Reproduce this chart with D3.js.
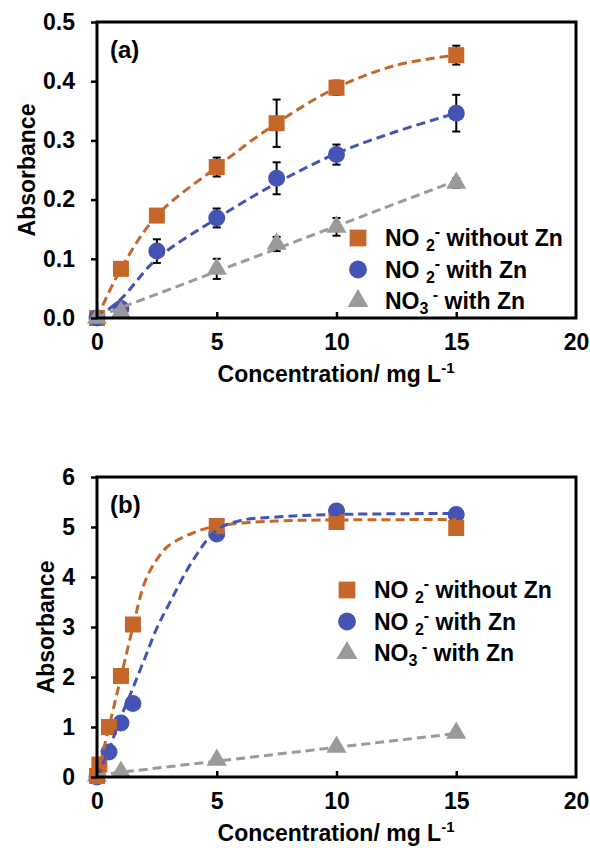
<!DOCTYPE html>
<html>
<head>
<meta charset="utf-8">
<script src="https://cdn.jsdelivr.net/npm/d3@7"></script>
<style>
  body { margin: 0; background: #fff; }
  text { font-family: "Liberation Sans", Arial, sans-serif; font-weight: bold; fill: #000; }
</style>
</head>
<body>
<div id="chart"></div>
<script>
// panel (a) measured points
var concA = [0, 1, 2.5, 5, 7.5, 10, 15];
var no2NoZnA = [0, 0.083, 0.173, 0.255, 0.329, 0.389, 0.444];
var no2NoZnErrA = [0, 0, 0, 0.016, 0.04, 0.012, 0.016];
var no2ZnA = [0, 0.016, 0.113, 0.169, 0.236, 0.276, 0.346];
var no2ZnErrA = [0, 0, 0.02, 0.016, 0.027, 0.017, 0.031];
var concA3 = [0, 1, 5, 7.5, 10, 15];
var no3ZnA = [0, 0.01, 0.083, 0.125, 0.154, 0.228];
var no3ZnErrA = [0, 0, 0.017, 0.012, 0.015, 0.008];

// panel (a) fitted dashed lines
var fitXA = [0, 1, 2.5, 5, 7.5, 10, 12.5, 15];
var fitNo2NoZnA = [0, 0.083, 0.173, 0.255, 0.329, 0.389, 0.427, 0.444];
var fitNo2ZnA = [0, 0.032, 0.1, 0.168, 0.228, 0.278, 0.315, 0.346];
var fitXA3 = [0, 15];
var fitNo3ZnA = [0.002, 0.232];

// panel (b) measured points
var concB1 = [0, 0.1, 0.5, 1, 1.5, 5, 10, 15];
var no2NoZnB = [0.02, 0.25, 1.0, 2.02, 3.05, 5.02, 5.1, 4.98];
var concB2 = [0, 0.5, 1, 1.5, 5, 10, 15];
var no2ZnB = [0, 0.5, 1.08, 1.47, 4.86, 5.32, 5.25];
var concB3 = [0, 1, 5, 10, 15];
var no3ZnB = [0.02, 0.1, 0.34, 0.6, 0.88];

// panel (b) fitted dashed lines
var fitXB1 = [0, 0.5, 1, 1.5, 2, 2.5, 3, 4, 5, 7.5, 10, 15];
var fitNo2NoZnB = [0, 1.0, 2.0, 3.0, 3.9, 4.35, 4.63, 4.88, 5.02, 5.12, 5.14, 5.15];
var fitXB2 = [0, 0.5, 1, 1.5, 2, 2.5, 3, 4, 5, 6, 7.5, 10, 15];
var fitNo2ZnB = [0, 0.55, 1.2, 1.78, 2.38, 2.98, 3.45, 4.33, 4.94, 5.13, 5.2, 5.25, 5.27];
var fitXB3 = [0, 15];
var fitNo3ZnB = [0.04, 0.87];

var xTicks = [0, 5, 10, 15, 20];
var yTicksA = [0, 0.1, 0.2, 0.3, 0.4, 0.5];
var yTicksB = [0, 1, 2, 3, 4, 5, 6];

var orange = "#C6672A";
var blue = "#4354B4";
var grey = "#9A9A9A";

var width = 590;
var height = 848;

var svg = d3.select("#chart").
append("svg").
attr("width", width).
attr("height", height);

svg.append("rect").
attr("width", width).
attr("height", height).
attr("fill", "#fff");

function zip(xs, ys, es) {
  return xs.map(function (x, i) {
    return { x: x, y: ys[i], e: es ? es[i] : 0 };
  });
}

function drawPanel(p) {
  var x = d3.scaleLinear().domain([0, 20]).range([97, 576]);
  var y = d3.scaleLinear().domain(p.yDomain).range([p.bottom, p.top]);
  var g = svg.append("g");

  // error bars (behind the markers)
  p.series.forEach(function (s) {
    if (!s.err) return;
    var pts = zip(s.x, s.y, s.err).filter(function (d) { return d.e > 0; });
    var eb = g.selectAll(null).data(pts).enter().append("g").
    attr("stroke", "#000").
    attr("stroke-width", 2);
    eb.append("line").
    attr("x1", function (d) { return x(d.x); }).
    attr("x2", function (d) { return x(d.x); }).
    attr("y1", function (d) { return y(d.y - d.e); }).
    attr("y2", function (d) { return y(d.y + d.e); });
    [-1, 1].forEach(function (sg) {
      eb.append("line").
      attr("x1", function (d) { return x(d.x) - 4; }).
      attr("x2", function (d) { return x(d.x) + 4; }).
      attr("y1", function (d) { return y(d.y + sg * d.e); }).
      attr("y2", function (d) { return y(d.y + sg * d.e); });
    });
  });

  // markers
  p.series.forEach(function (s) {
    g.selectAll(null).
    data(zip(s.x, s.y)).
    enter().
    append("path").
    attr("d", d3.symbol().type(s.symbol).size(s.size)).
    attr("transform", function (d) {
      return "translate(" + x(d.x) + "," + y(d.y) + ")";
    }).
    attr("fill", s.color);
  });

  // dashed fit lines
  var line = d3.line().
  x(function (d) { return x(d.x); }).
  y(function (d) { return y(d.y); }).
  curve(d3.curveCatmullRom.alpha(0.5));
  p.fits.forEach(function (f) {
    g.append("path").
    datum(zip(f.x, f.y)).
    attr("d", line).
    attr("fill", "none").
    attr("stroke", f.color).
    attr("stroke-width", 3).
    attr("stroke-dasharray", "9,5");
  });

  // axes
  var yAxis = d3.axisLeft(y).tickValues(p.yTicks).tickFormat(p.fmt).tickSizeInner(6).tickSizeOuter(0).tickPadding(16);
  var yg = g.append("g").attr("transform", "translate(97,0)").call(yAxis);
  var xAxis = d3.axisBottom(x).tickValues(xTicks).tickFormat(d3.format("d")).tickSizeInner(-6).tickSizeOuter(0).tickPadding(16);
  var xg = g.append("g").attr("transform", "translate(0," + p.bottom + ")").call(xAxis);
  [yg, xg].forEach(function (ax) {
    ax.select(".domain").remove();
    ax.selectAll(".tick line").attr("stroke", "#000").attr("stroke-width", 2.5);
    ax.selectAll(".tick text").
    attr("font-size", 23).
    attr("font-family", "\"Liberation Sans\", Arial, sans-serif").
    attr("font-weight", "bold");
  });
  xg.selectAll(".tick").filter(function (d) { return d === 0 || d === 20; }).select("line").remove();

  g.append("rect").
  attr("x", 97).
  attr("y", p.top).
  attr("width", 576 - 97).
  attr("height", p.bottom - p.top).
  attr("fill", "none").
  attr("stroke", "#000").
  attr("stroke-width", 3);

  g.append("text").
  text(p.label).
  attr("x", 110).
  attr("y", p.top + 36).
  attr("font-size", 24);

  var ty = g.append("text").
  attr("text-anchor", "middle").
  attr("font-size", 23).
  attr("x", 336).
  attr("y", p.bottom + 64);
  ty.append("tspan").text("Concentration/ mg L");
  ty.append("tspan").text("-1").attr("font-size", 15).attr("dy", -9);

  g.append("text").
  text("Absorbance").
  attr("text-anchor", "middle").
  attr("font-size", 23).
  attr("transform", "translate(" + p.yTitleX + "," + (p.top + p.bottom) / 2 + ") rotate(-90)");

  // legend
  p.series.forEach(function (s) {
    var ly = p.legY + s.row * 31.5;
    g.append("path").
    attr("d", d3.symbol().type(s.symbol).size(s.legSize)).
    attr("transform", "translate(" + p.legX + "," + ly + ")").
    attr("fill", s.color);
    var t = g.append("text").
    attr("x", p.legX + 27).
    attr("y", ly + 8).
    attr("font-size", 23);
    t.append("tspan").text(s.sub === "2" ? "NO " : "NO");
    t.append("tspan").text(s.sub).attr("font-size", 16).attr("dy", 5);
    t.append("tspan").text(s.sub === "2" ? "-" : " -").attr("font-size", 16).attr("dy", -14);
    t.append("tspan").text(" " + s.name).attr("dy", 9);
  });
}

var seriesA = [
  { x: concA, y: no2NoZnA, err: no2NoZnErrA, color: orange, symbol: d3.symbolSquare, size: 256, legSize: 280, row: 0, sub: "2", name: "without Zn" },
  { x: concA, y: no2ZnA, err: no2ZnErrA, color: blue, symbol: d3.symbolCircle, size: 227, legSize: 250, row: 1, sub: "2", name: "with Zn" },
  { x: concA3, y: no3ZnA, err: no3ZnErrA, color: grey, symbol: d3.symbolTriangle, size: 175, legSize: 190, row: 2, sub: "3", name: "with Zn" }
];

drawPanel({
  top: 22, bottom: 318, yDomain: [0, 0.5], yTicks: yTicksA, fmt: d3.format(".1f"),
  label: "(a)", yTitleX: 35, legX: 358, legY: 238,
  series: seriesA,
  fits: [
    { x: fitXA, y: fitNo2NoZnA, color: orange },
    { x: fitXA, y: fitNo2ZnA, color: blue },
    { x: fitXA3, y: fitNo3ZnA, color: grey }
  ]
});

var seriesB = [
  { x: concB3, y: no3ZnB, color: grey, symbol: d3.symbolTriangle, size: 175, legSize: 190, row: 2, sub: "3", name: "with Zn" },
  { x: concB2, y: no2ZnB, color: blue, symbol: d3.symbolCircle, size: 227, legSize: 250, row: 1, sub: "2", name: "with Zn" },
  { x: concB1, y: no2NoZnB, color: orange, symbol: d3.symbolSquare, size: 256, legSize: 280, row: 0, sub: "2", name: "without Zn" }
];

drawPanel({
  top: 477, bottom: 777, yDomain: [0, 6], yTicks: yTicksB, fmt: d3.format("d"),
  label: "(b)", yTitleX: 54, legX: 347, legY: 590,
  series: seriesB,
  fits: [
    { x: fitXB1, y: fitNo2NoZnB, color: orange },
    { x: fitXB2, y: fitNo2ZnB, color: blue },
    { x: fitXB3, y: fitNo3ZnB, color: grey }
  ]
});
</script>
</body>
</html>
